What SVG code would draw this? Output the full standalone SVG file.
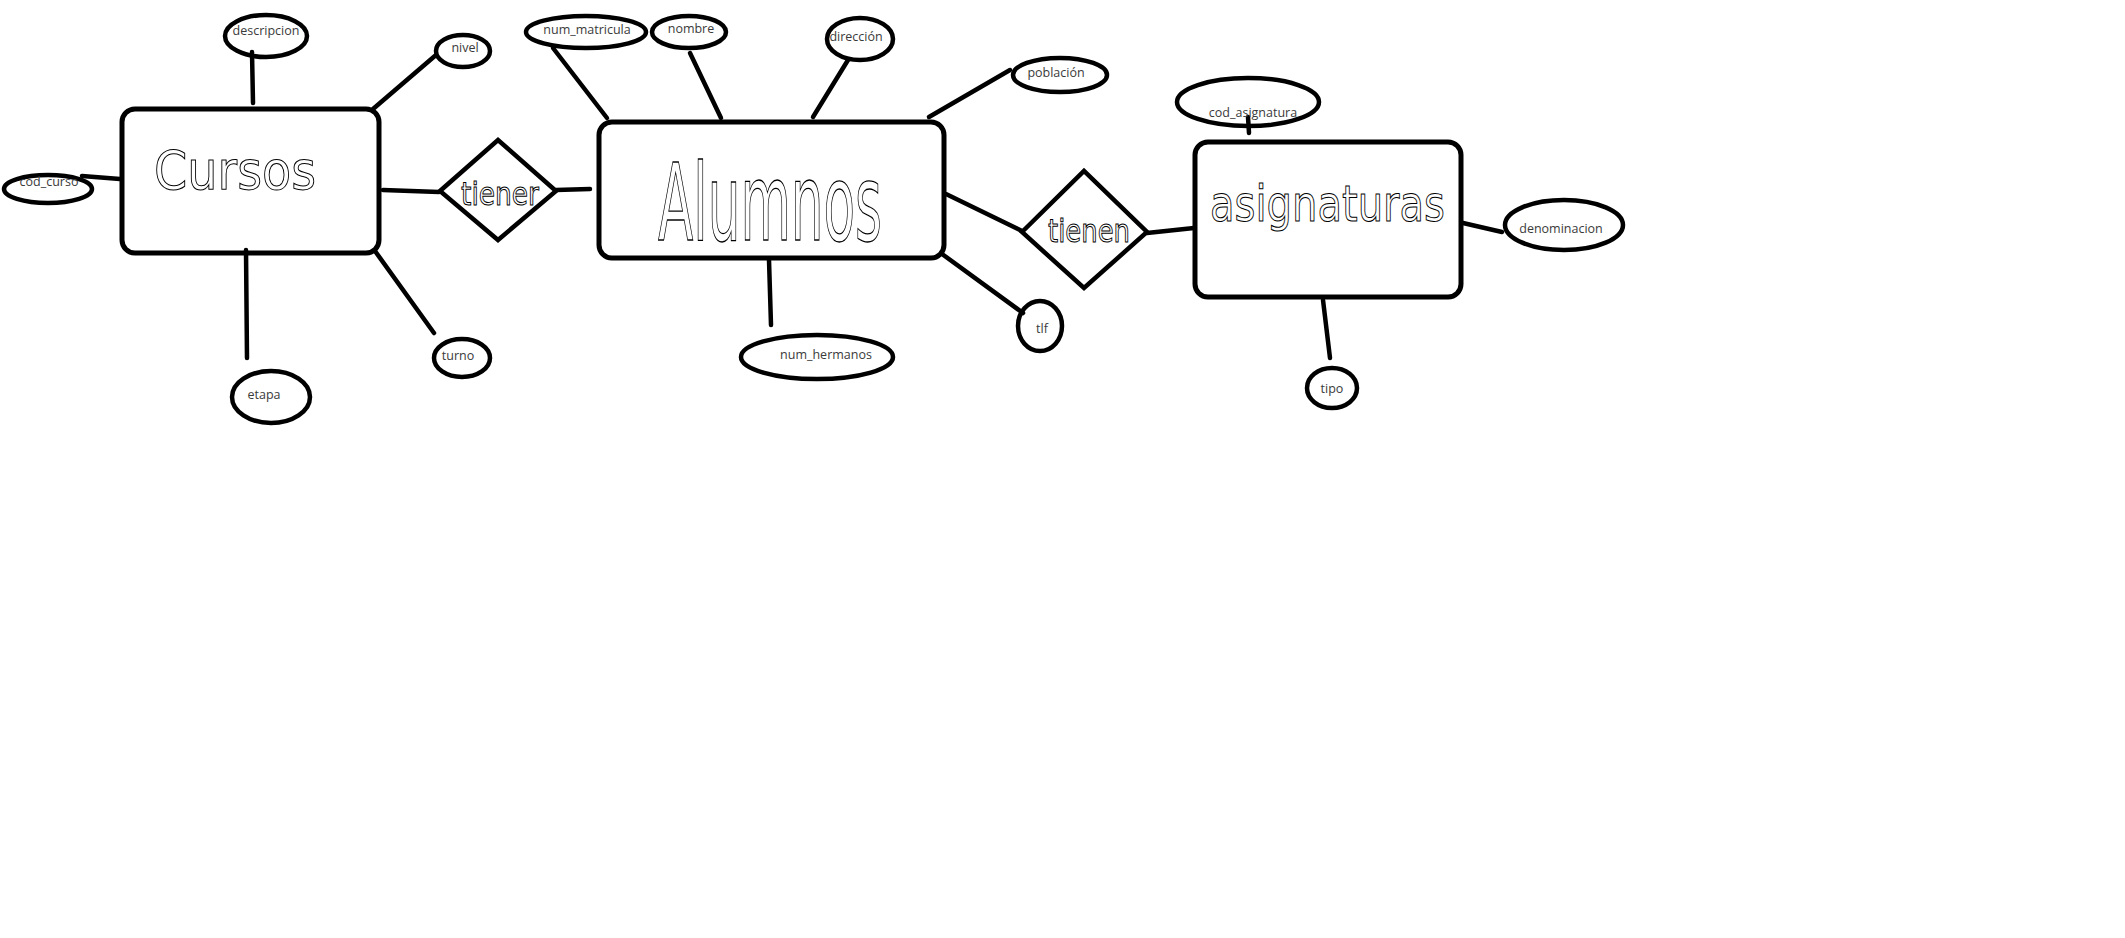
<svg xmlns="http://www.w3.org/2000/svg" width="2125" height="938" viewBox="0 0 2125 938">
<style>
.ent{fill:none;stroke:#000;stroke-width:5}
.attr{fill:none;stroke:#000;stroke-width:4.5}
.rel{fill:none;stroke:#000;stroke-width:4.5}
.lbl{font-family:"Open Sans","Noto Sans",sans-serif;font-size:12.5px;fill:#3a3a3a;text-anchor:middle;dominant-baseline:middle}
.hand{font-family:"DejaVu Sans",sans-serif;fill:none;stroke:#000;stroke-width:1}
#connectors line{stroke:#000;stroke-width:4.5;stroke-linecap:round}
</style>
<rect width="2125" height="938" fill="#fff"/>
<g id="connectors">
<line x1="252" y1="52" x2="253" y2="103"/>
<line x1="373" y1="109" x2="436" y2="55"/>
<line x1="82" y1="176" x2="120" y2="179"/>
<line x1="246" y1="250" x2="247" y2="358"/>
<line x1="375" y1="251" x2="434" y2="333"/>
<line x1="383" y1="190" x2="439" y2="192"/>
<line x1="556" y1="190" x2="590" y2="189"/>
<line x1="553" y1="48" x2="607" y2="118"/>
<line x1="690" y1="53" x2="721" y2="118"/>
<line x1="848" y1="60" x2="813" y2="117"/>
<line x1="929" y1="117" x2="1010" y2="70"/>
<line x1="946" y1="194" x2="1022" y2="231"/>
<line x1="942" y1="254" x2="1023" y2="313"/>
<line x1="769" y1="260" x2="771" y2="325"/>
<line x1="1147" y1="233" x2="1194" y2="228"/>
<line x1="1248" y1="117" x2="1249" y2="133"/>
<line x1="1463" y1="223" x2="1502" y2="232"/>
<line x1="1323" y1="300" x2="1330" y2="358"/>
</g>
<g id="cursos">
<rect class="ent" x="122" y="109" width="257" height="144" rx="13"/>
<text class="hand" x="154" y="189" font-size="54" textLength="162" lengthAdjust="spacingAndGlyphs">Cursos</text>
</g>
<g id="descripcion"><ellipse class="attr" cx="266" cy="36" rx="41" ry="21"/><text class="lbl" x="266" y="32">descripcion</text></g>
<g id="nivel"><ellipse class="attr" cx="463" cy="51" rx="27" ry="16"/><text class="lbl" x="465" y="49">nivel</text></g>
<g id="cod_curso"><ellipse class="attr" cx="48" cy="189" rx="44" ry="14"/><text class="lbl" x="49" y="183">cod_curso</text></g>
<g id="etapa"><ellipse class="attr" cx="271" cy="397" rx="39" ry="26"/><text class="lbl" x="264" y="396">etapa</text></g>
<g id="turno"><ellipse class="attr" cx="462" cy="358" rx="28" ry="19"/><text class="lbl" x="458" y="357">turno</text></g>
<g id="tiener">
<polygon class="rel" points="440,191 498,140 556,191 498,240"/>
<text class="hand" x="461" y="205" font-size="32" textLength="78" lengthAdjust="spacingAndGlyphs">tiener</text>
</g>
<g id="alumnos">
<rect class="ent" x="599" y="122" width="345" height="136" rx="13"/>
<text class="hand" transform="translate(658,240) scale(1,2.05)" x="0" y="0" font-size="52" textLength="224" lengthAdjust="spacingAndGlyphs" vector-effect="non-scaling-stroke">Alumnos</text>
</g>
<g id="num_matricula"><ellipse class="attr" cx="586" cy="32" rx="60" ry="16"/><text class="lbl" x="587" y="31">num_matricula</text></g>
<g id="nombre"><ellipse class="attr" cx="689" cy="32" rx="37" ry="16"/><text class="lbl" x="691" y="30">nombre</text></g>
<g id="direccion"><ellipse class="attr" cx="860" cy="39" rx="33" ry="21"/><text class="lbl" x="856" y="38">dirección</text></g>
<g id="poblacion"><ellipse class="attr" cx="1060" cy="75" rx="47" ry="17"/><text class="lbl" x="1056" y="74">población</text></g>
<g id="num_hermanos"><ellipse class="attr" cx="817" cy="357" rx="76" ry="22"/><text class="lbl" x="826" y="356">num_hermanos</text></g>
<g id="tlf"><ellipse class="attr" cx="1040" cy="326" rx="22" ry="25"/><text class="lbl" x="1042" y="330">tlf</text></g>
<g id="tienen">
<polygon class="rel" points="1022,232 1084,171 1147,232 1084,288"/>
<text class="hand" x="1048" y="242" font-size="32" textLength="82" lengthAdjust="spacingAndGlyphs">tienen</text>
</g>
<g id="asignaturas">
<rect class="ent" x="1195" y="142" width="266" height="155" rx="13"/>
<text class="hand" x="1210" y="221" font-size="50" textLength="235" lengthAdjust="spacingAndGlyphs">asignaturas</text>
</g>
<g id="cod_asignatura"><ellipse class="attr" cx="1248" cy="102" rx="71" ry="24"/><text class="lbl" x="1253" y="114">cod_asignatura</text></g>
<g id="denominacion"><ellipse class="attr" cx="1564" cy="225" rx="59" ry="25"/><text class="lbl" x="1561" y="230">denominacion</text></g>
<g id="tipo"><ellipse class="attr" cx="1332" cy="388" rx="25" ry="20"/><text class="lbl" x="1332" y="390">tipo</text></g>
</svg>
